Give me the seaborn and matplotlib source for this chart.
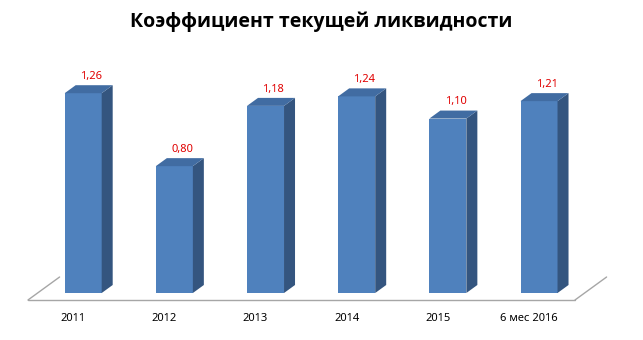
import matplotlib
matplotlib.use("Agg")
import matplotlib.pyplot as plt
import seaborn as sns
import pandas as pd
from matplotlib.transforms import ScaledTranslation

categories = ["2011", "2012", "2013", "2014", "2015", "6 мес 2016"]
values = [1.26, 0.80, 1.18, 1.24, 1.10, 1.21]
value_labels = ["1,26", "0,80", "1,18", "1,24", "1,10", "1,21"]
title = "Коэффициент текущей ликвидности"

sns.set_style("white")
plt.rcParams['font.family'] = ['Noto Sans', 'DejaVu Sans']

W, H = 643, 340
fig = plt.figure(figsize=(W / 100, H / 100), dpi=100)
ax_left, ax_w = 37.6 / W, 547 / W
ax_bottom, ax_h = 47 / H, 222 / H
ax = fig.add_axes([ax_left, ax_bottom, ax_w, ax_h])

df = pd.DataFrame({"cat": categories, "val": values})
front = "#4F81BD"
top_c = "#416CA2"
side_c = "#34557F"
sns.barplot(data=df, x="cat", y="val", color=front, saturation=1, width=0.406,
            ax=ax, zorder=3, linewidth=0)
ax.set_xlim(-0.5, 5.5)
ax.set_ylim(0, 1.4)

pxx = ax_w * W / 6.0       # px per x unit
pxy = ax_h * H / 1.4       # px per y unit
ddx = 11 / pxx
ddy = 8 / pxy

# floor
tf, tb = -0.875, 2.0
fx0, fy0 = tf * ddx, tf * ddy
bx0, by0 = tb * ddx, tb * ddy
lc = "#A6A6A6"
ax.plot([-0.5 + fx0, 5.5 + fx0], [fy0, fy0], color=lc, lw=1, clip_on=False, zorder=1)
ax.plot([-0.5 + fx0, -0.5 + bx0], [fy0, by0], color=lc, lw=1, clip_on=False, zorder=1)
ax.plot([5.5 + fx0, 5.5 + bx0], [fy0, by0], color=lc, lw=1, clip_on=False, zorder=1)

for p, lab in zip(ax.patches, value_labels):
    x0 = p.get_x()
    w = p.get_width()
    v = p.get_height()
    x1 = x0 + w
    ax.fill([x1, x1 + ddx, x1 + ddx, x1], [0, ddy, v + ddy, v],
            color=side_c, lw=0, zorder=3, clip_on=False)
    ax.fill([x0, x1, x1 + ddx, x0 + ddx], [v, v, v + ddy, v + ddy],
            color=top_c, lw=0, zorder=3, clip_on=False)
    ax.annotate(lab, (x0 + w / 2, v), xytext=(5.5, 12), textcoords="offset points",
                ha="center", va="center", color="#E00000", fontsize=8,
                annotation_clip=False)

ax.set_xlabel("")
ax.set_ylabel("")
ax.set_yticks([])
ax.tick_params(axis="x", length=0, pad=14.5, labelsize=8, labelcolor="black")
for lbl in ax.get_xticklabels():
    lbl.set_transform(lbl.get_transform() + ScaledTranslation(-10 / 100, 0, fig.dpi_scale_trans))
for s in ax.spines.values():
    s.set_visible(False)

fig.text(0.5, 1 - 22 / H, title, ha="center", va="center", fontsize=14,
         fontweight="bold", color="black", family=["Open Sans", "DejaVu Sans"])

fig.savefig("out.png", dpi=100)
